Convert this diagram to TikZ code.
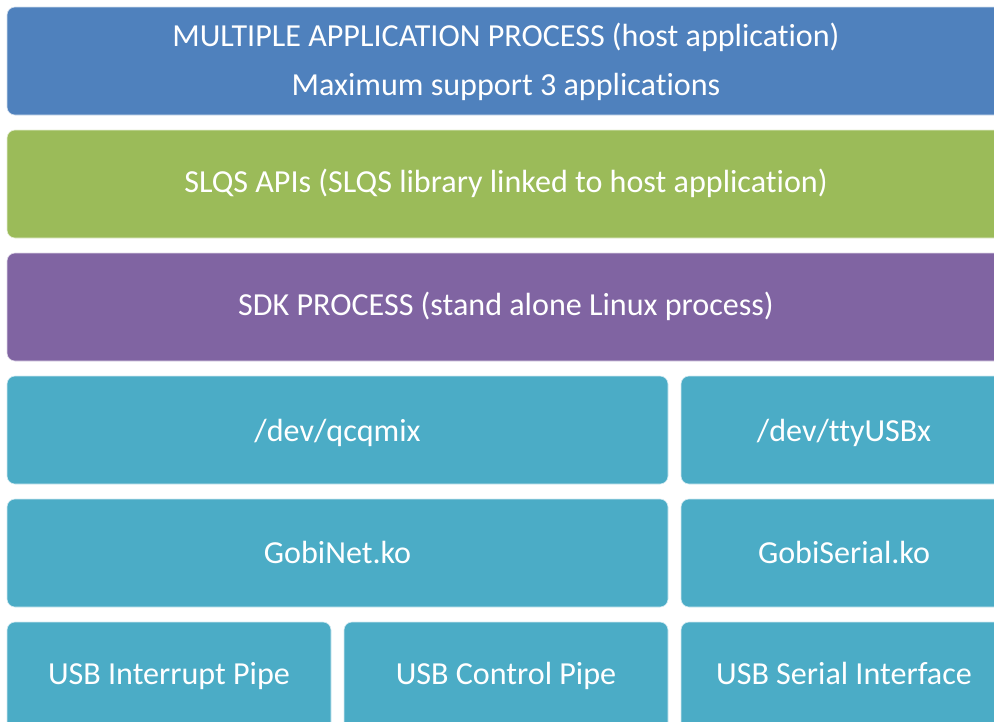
\documentclass[tikz,border=0pt]{standalone}
\usepackage{fontspec}
\setmainfont[Ligatures={NoCommon,NoContextual},RawFeature={-liga;-clig;-dlig;-calt}]{Carlito}
\definecolor{cblue}{HTML}{4F81BD}
\definecolor{cgreen}{HTML}{9BBB59}
\definecolor{cpurple}{HTML}{8064A2}
\definecolor{cteal}{HTML}{4BACC6}
\newcommand{\tiX}{t\kern0pt i}
\tikzset{
  layer/.style={rounded corners=8pt, draw=white!75!#1, line width=0.6pt, fill=#1},
  lbl/.style={text=white, font=\fontsize{32.1}{36}\selectfont, anchor=base, inner sep=0pt},
}
\begin{document}
\begin{tikzpicture}[x=1pt,y=-1pt]
\useasboundingbox (0,0) rectangle (994,721);
\clip (0,0) rectangle (994,721);
% boxes
\path[layer=cblue] (7,7) rectangle (1006,115);
\path[layer=cgreen] (7,130) rectangle (1006,238);
\path[layer=cpurple] (7,253) rectangle (1006,361);
\path[layer=cteal] (7,376) rectangle (668,484);
\path[layer=cteal] (681,376) rectangle (1006,484);
\path[layer=cteal] (7,499) rectangle (668,607);
\path[layer=cteal] (681,499) rectangle (1006,607);
\path[layer=cteal] (7,622) rectangle (331,730);
\path[layer=cteal] (344,622) rectangle (668,730);
\path[layer=cteal] (681,622) rectangle (1006,730);
% labels
\node[lbl] (t1) at (506,46) {MULTIPLE APPLICATION PROCESS (host applica\tiX on)};
\node[lbl] (t2) at (506,95) {Maximum support 3 applica\tiX ons};
\node[lbl] (slqs) at (506,192) {SLQS APIs (SLQS library linked to host applica\tiX on)};
\node[lbl] (sdk) at (506,315) {SDK PROCESS (stand alone Linux process)};
\node[lbl] (qcq) at (337.5,441) {/dev/qcqmix};
\node[lbl] (tty) at (844,441) {/dev/ttyUSBx};
\node[lbl] (gnet) at (337.5,563) {GobiNet.ko};
\node[lbl] (gser) at (844,563) {GobiSerial.ko};
\node[lbl] (uint) at (169,684) {USB Interrupt Pipe};
\node[lbl] (uctl) at (506,684) {USB Control Pipe};
\node[lbl] (user) at (844,684) {USB Serial Interface};
\end{tikzpicture}
\end{document}
